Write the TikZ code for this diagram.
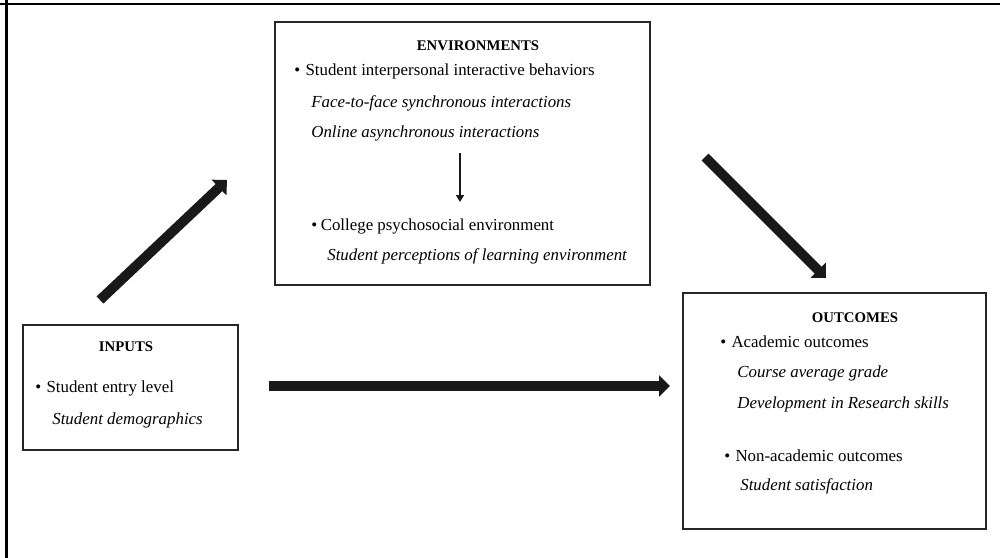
\documentclass[tikz,border=0pt]{standalone}
\usepackage{fontspec}
\setmainfont{Liberation Serif}
\usetikzlibrary{arrows.meta, fit}

\begin{document}
\begin{tikzpicture}[x=0.2mm, y=-0.2mm,
    font=\fontsize{9.6}{11}\selectfont,
    box/.style={draw=black!85, line width=0.7pt, inner sep=0pt},
    title/.style={inner sep=0pt, font=\fontsize{8.4}{10}\selectfont\bfseries},
    item/.style={anchor=west, inner sep=0pt},
    sub/.style={anchor=west, inner sep=0pt, font=\fontsize{9.6}{11}\selectfont\itshape},
    fat/.style={black!90, line width=5.6pt, -{Triangle[length=2.2mm, width=4.2mm]}},
    thin/.style={black!90, line width=0.8pt, -{Triangle[length=1.4mm, width=1.6mm]}}]
    \useasboundingbox (0,0) rectangle (1000,558);

    % Khung ngoài
    \draw[line width=1.3pt] (0,4) -- (1000,4);
    \draw[line width=1.3pt] (6.5,0) -- (6.5,558);

    % Các hộp
    \node[box, fit={(275,22) (650,285)}] (env) {};
    \node[box, fit={(23,325) (238,450)}] (inp) {};
    \node[box, fit={(683,293) (986,529)}] (out) {};

    % Hộp giữa
    \node[title] (envT) at (478,46) {ENVIRONMENTS};
    \node[item] (envA) at (294,71) {\textbullet\hspace{3pt}Student interpersonal interactive behaviors};
    \node[sub] (envA1) at (311,103) {Face-to-face synchronous interactions};
    \node[sub] (envA2) at (311,133) {Online asynchronous interactions};
    \node[item] (envB) at (311,226) {\textbullet\hspace{2pt}College psychosocial environment};
    \node[sub] (envB1) at (327,256) {Student perceptions of learning environment};

    % Hộp trái
    \node[title] (inpT) at (126,347) {INPUTS};
    \node[item] (inpA) at (35,388) {\textbullet\hspace{3pt}Student entry level};
    \node[sub] (inpA1) at (52,420) {Student demographics};

    % Hộp phải
    \node[title] (outT) at (855,318) {OUTCOMES};
    \node[item] (outA) at (720,342) {\textbullet\hspace{3pt}Academic outcomes};
    \node[sub] (outA1) at (737,373) {Course average grade};
    \node[sub] (outA2) at (737,404) {Development in Research skills};
    \node[item] (outB) at (724,456) {\textbullet\hspace{3pt}Non-academic outcomes};
    \node[sub] (outB1) at (740,486) {Student satisfaction};

    % Mũi tên
    \coordinate (upS) at (100,300);
    \coordinate (upE) at (227,180);
    \coordinate (dnS) at (705,157);
    \coordinate (dnE) at (826,278);
    \coordinate (hzS) at (269,386);
    \coordinate (hzE) at (670,386);
    \coordinate (envS) at (460,153);
    \coordinate (envE) at (460,202);

    \foreach \a/\b in {upS/upE, dnS/dnE, hzS/hzE} {
        \draw[fat] (\a) -- (\b);
    }
    \draw[thin] (envS) -- (envE);

\end{tikzpicture}
\end{document}
